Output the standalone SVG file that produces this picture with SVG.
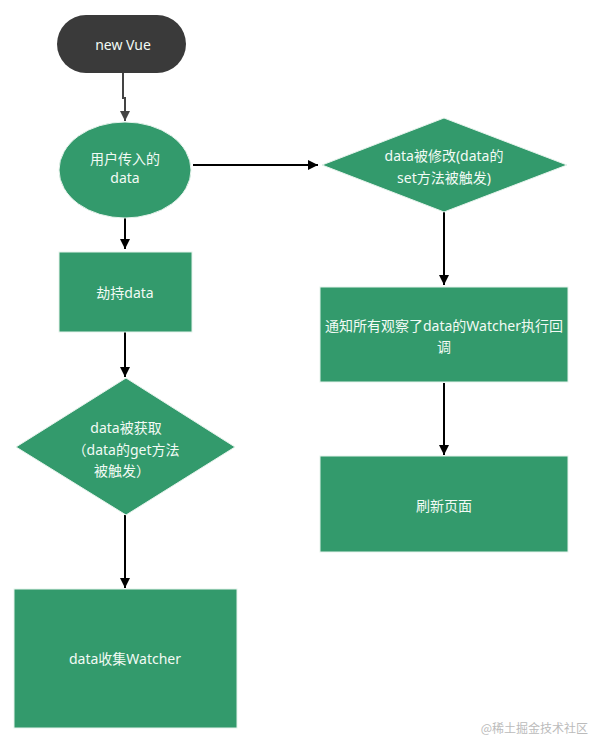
<svg xmlns="http://www.w3.org/2000/svg" width="598" height="742" viewBox="0 0 598 742">
<defs>
<marker id="ah" viewBox="0 0 10 10" refX="10" refY="5" markerWidth="10" markerHeight="10" markerUnits="userSpaceOnUse" orient="auto">
<path d="M0,0 L10,5 L0,10 Z" fill="#000"/>
</marker>
<marker id="ahg" viewBox="0 0 10 10" refX="10" refY="5" markerWidth="10" markerHeight="10" markerUnits="userSpaceOnUse" orient="auto">
<path d="M0,0 L10,5 L0,10 Z" fill="#444"/>
</marker>
</defs>
<style>
.n{fill:#339a6c;stroke:#e6f3ec;stroke-width:1}
.t{fill:#f2faf5;font-family:"Noto Sans","Noto Sans CJK SC",sans-serif;font-size:14px;text-anchor:middle;dominant-baseline:central}
.c{fill:none;stroke:#000;stroke-width:2;marker-end:url(#ah)}
</style>
<rect width="598" height="742" fill="#fff"/>
<g id="connectors">
<path d="M123,73 V98 H125 V121" fill="none" stroke="#444" stroke-width="2" marker-end="url(#ahg)"/>
<path class="c" d="M125,218 V249"/>
<path class="c" d="M193,165 H318"/>
<path class="c" d="M125,332 V377"/>
<path class="c" d="M125,515 V588"/>
<path class="c" d="M444,212 V285"/>
<path class="c" d="M444,383 V455"/>
</g>
<g id="n_newvue">
<rect x="57" y="15" width="129" height="58" rx="29" fill="#3a3a3a"/>
<text class="t" x="123" y="44" fill="#fff">new Vue</text>
</g>
<g id="n_userdata">
<ellipse class="n" cx="125" cy="170" rx="66" ry="48"/>
<text class="t" x="125" y="158">用户传入的</text>
<text class="t" x="125" y="177">data</text>
</g>
<g id="n_hijack">
<rect class="n" x="59" y="252" width="133" height="80"/>
<text class="t" x="125" y="292">劫持data</text>
</g>
<g id="n_get">
<polygon class="n" points="126,378 235,447 126,515 16,447"/>
<text class="t" x="126" y="427">data被获取</text>
<text class="t" x="126" y="449">（data的get方法</text>
<text class="t" x="122" y="470">被触发）</text>
</g>
<g id="n_collect">
<rect class="n" x="14" y="589" width="223" height="139"/>
<text class="t" x="125" y="658">data收集Watcher</text>
</g>
<g id="n_set">
<polygon class="n" points="444,118 567,165 444,212 322,165"/>
<text class="t" x="444" y="155">data被修改(data的</text>
<text class="t" x="444" y="177">set方法被触发)</text>
</g>
<g id="n_notify">
<rect class="n" x="320" y="287" width="248" height="95"/>
<text class="t" x="444" y="325">通知所有观察了data的Watcher执行回</text>
<text class="t" x="444" y="346">调</text>
</g>
<g id="n_refresh">
<rect class="n" x="320" y="456" width="248" height="96"/>
<text class="t" x="444" y="505">刷新页面</text>
</g>
<text x="588" y="727" font-family="'Noto Sans CJK SC',sans-serif" font-size="12" fill="#bbbbbb" text-anchor="end" dominant-baseline="central">@稀土掘金技术社区</text>
</svg>
